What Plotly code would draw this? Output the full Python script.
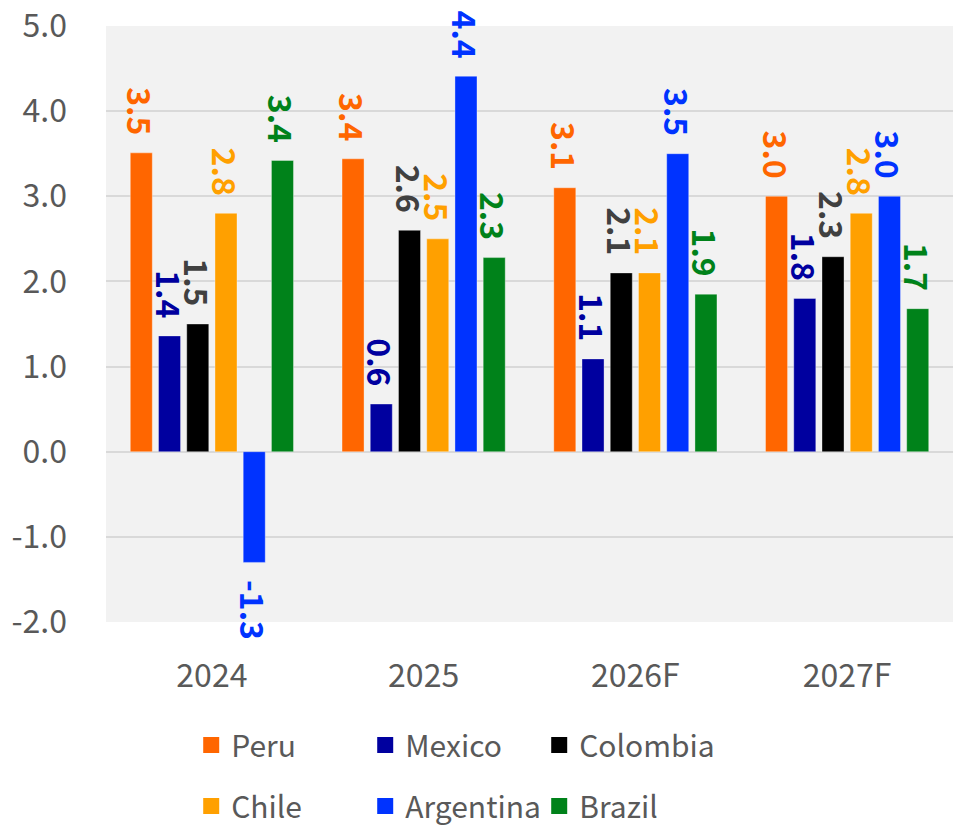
import plotly.graph_objects as go

categories = ["2024", "2025", "2026F", "2027F"]
series_names = ["Peru", "Mexico", "Colombia", "Chile", "Argentina", "Brazil"]
peru = [3.51, 3.44, 3.10, 3.00]
mexico = [1.36, 0.56, 1.09, 1.80]
colombia = [1.50, 2.60, 2.10, 2.29]
chile = [2.80, 2.50, 2.10, 2.80]
argentina = [-1.30, 4.41, 3.50, 3.00]
brazil = [3.42, 2.28, 1.85, 1.68]
values = [peru, mexico, colombia, chile, argentina, brazil]
bar_colors = ["#FF6600", "#00009F", "#000000", "#FFA000", "#0033FF", "#00821A"]
label_colors = ["#FF6600", "#00009F", "#404040", "#FFA000", "#0033FF", "#00821A"]
y_ticks = [-2, -1, 0, 1, 2, 3, 4, 5]

FONT = "Noto Sans CJK KR"
PAD = "\u00a0\u00a0"


def label(v):
    s = f"{v:.1f}"
    return PAD + s if v < 0 else s + PAD


fig = go.Figure()
for i, (name, vals) in enumerate(zip(series_names, values)):
    fig.add_trace(go.Bar(
        x=categories, y=vals, name=name,
        marker=dict(color=bar_colors[i], line=dict(color="rgba(255,255,255,0.35)", width=1)),
        text=[label(v) for v in vals], textposition="outside", textangle=90,
        textfont=dict(family=FONT, size=32, color=label_colors[i], weight="bold"),
        constraintext="none", cliponaxis=False, showlegend=False,
    ))
for i, name in enumerate(series_names):
    fig.add_trace(go.Scatter(
        x=[None], y=[None], mode="markers", name=name,
        marker=dict(symbol="square", size=20, color=bar_colors[i]),
        legend="legend" if i < 3 else "legend2",
    ))

leg_common = dict(orientation="h", entrywidth=129, entrywidthmode="pixels",
                  font=dict(family=FONT, size=30, color="#595959"),
                  bgcolor="rgba(0,0,0,0)", xanchor="left", yanchor="middle",
                  xref="paper", yref="container",
                  itemsizing="trace", tracegroupgap=0)
fig.update_layout(
    width=953, height=826,
    margin=dict(l=106, r=0, t=26, b=204, autoexpand=False),
    paper_bgcolor="white", plot_bgcolor="#F2F2F2",
    barmode="group", bargap=0.2, bargroupgap=0.22,
    font=dict(family=FONT, color="#595959"),
    legend=dict(x=0.1006, y=1 - 745 / 826, **leg_common),
    legend2=dict(x=0.1006, y=1 - 806 / 826, **leg_common),
    xaxis=dict(tickfont=dict(size=32, color="#595959"), showgrid=False, automargin=False,
               ticks="outside", ticklen=0, ticklabelstandoff=26, showline=False),
    yaxis=dict(range=[-2, 5], tickvals=y_ticks, ticktext=[f"{v:.1f}" for v in y_ticks],
               tickfont=dict(size=32, color="#595959"), gridcolor="#D9D9D9", gridwidth=2,
               zeroline=True, zerolinecolor="#D9D9D9", zerolinewidth=2, automargin=False,
               ticklabelstandoff=38, showline=False),
)
fig.write_html("out.html")
